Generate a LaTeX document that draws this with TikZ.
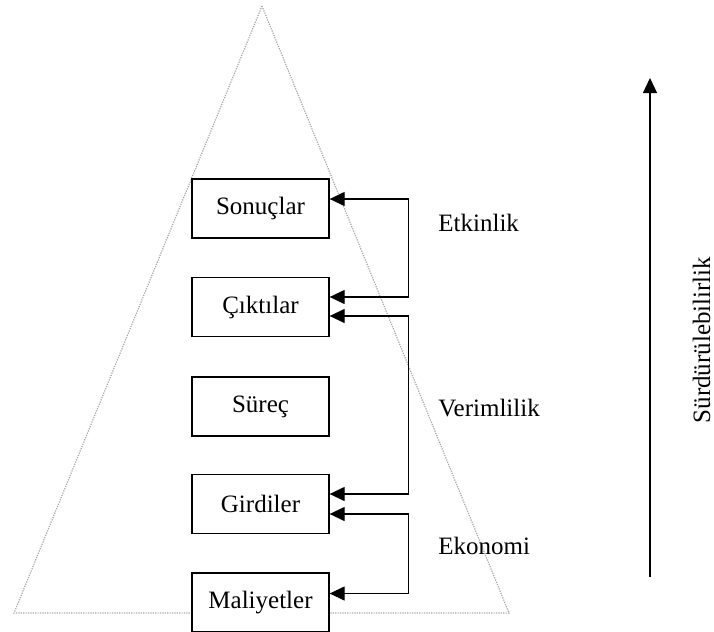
\documentclass[tikz,border=0pt]{standalone}
\usepackage{fontspec}
\setmainfont{Liberation Serif}
\usetikzlibrary{arrows.meta,calc}

\begin{document}
\begin{tikzpicture}[x=0.5pt,y=-0.5pt,>={Triangle[length=7.5pt,width=7pt]},
		kutu/.style={draw,fill=white,line width=0.65pt,minimum width=68.5pt,minimum height=29.5pt,font=\fontsize{12.5}{15}\selectfont},
		etiket/.style={anchor=west,inner sep=0pt,font=\fontsize{12.5}{15}\selectfont},
		dongu/.style={<->,line width=0.65pt}]
	\useasboundingbox (0,0) rectangle (714,632);

	% piramit
	\draw[black!35,line width=0.6pt,dash pattern=on 0.6pt off 0.6pt] (262,6) -- (509,613) -- (14,613) -- cycle;

	% kutular
	\node[kutu] (son) at (260.5,208.5) {Sonuçlar};
	\node[kutu] (cik) at (260.5,307) {Çıktılar};
	\node[kutu] (sur) at (260.5,406.5) {Süreç};
	\node[kutu] (gir) at (260.5,504) {Girdiler};
	\node[kutu] (mal) at (260.5,602.5) {Maliyetler};

	% donguler
	\draw[dongu] ($(son.east)+(0,-9.5)$) -- ++(79,0) |- ($(cik.east)+(0,-10)$);
	\draw[dongu] ($(cik.east)+(0,9)$) -- ++(79,0) |- ($(gir.east)+(0,-10)$);
	\draw[dongu] ($(gir.east)+(0,10)$) -- ++(79,0) |- ($(mal.east)+(0,-9)$);

	\node[etiket] (etk) at (438,223) {Etkinlik};
	\node[etiket] (ver) at (438,408) {Verimlilik};
	\node[etiket] (eko) at (438,546) {Ekonomi};

	% surdurulebilirlik oku
	\coordinate (alt) at (650,577);
	\coordinate (ust) at (650,78);
	\draw[->,line width=0.65pt] (alt) -- (ust);
	\node[rotate=90,anchor=base,inner sep=0pt,font=\fontsize{12.5}{15}\selectfont] (surd) at (710,340) {Sürdürülebilirlik};
\end{tikzpicture}
\end{document}
